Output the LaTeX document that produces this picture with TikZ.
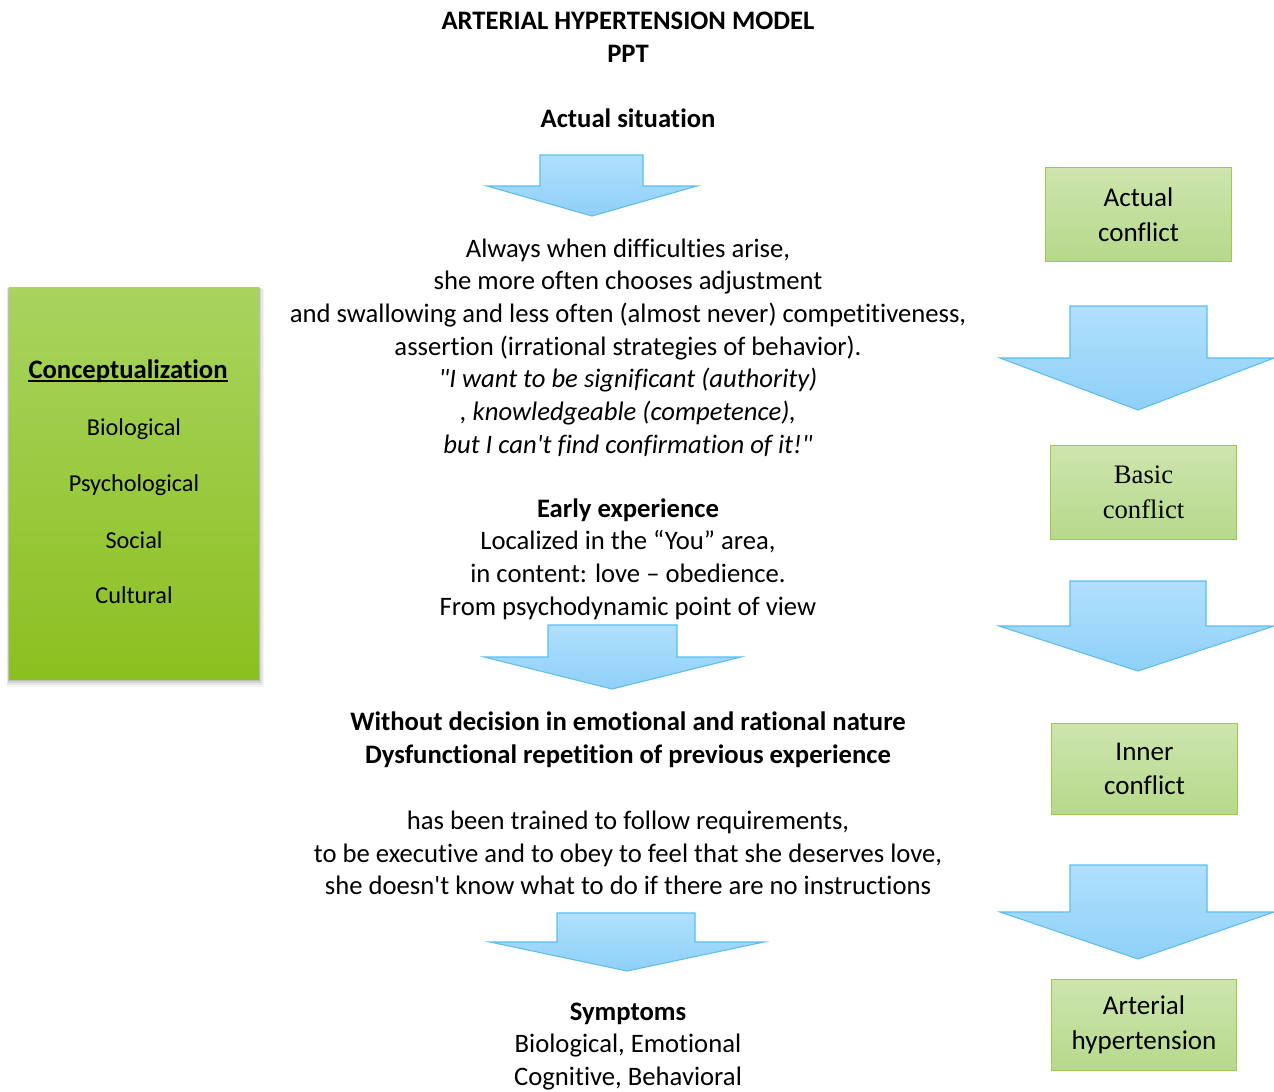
\documentclass[tikz,border=0pt]{standalone}
\usepackage{fontspec}
\setmainfont{Carlito}[Ligatures={TeXOff,CommonOff}]
\newfontfamily\serifbox{Liberation Serif}[Ligatures={TeXOff,CommonOff}]
\usetikzlibrary{shadings,calc}
\definecolor{arrowfillA}{HTML}{B0E0FD}
\definecolor{arrowfillB}{HTML}{8FD0F8}
\definecolor{arrowline}{HTML}{5CBEF0}
\definecolor{boxA}{HTML}{CDE5AE}
\definecolor{boxB}{HTML}{B6D98A}
\definecolor{boxline}{HTML}{9CCB4C}
\definecolor{concA}{HTML}{A8D45F}
\definecolor{concB}{HTML}{8BC020}
\tikzset{
  blockarrow/.style={draw=arrowline, line width=0.8pt, top color=arrowfillA, bottom color=arrowfillB, line join=miter},
  greenbox/.style={draw=boxline, line width=0.8pt, top color=boxA, bottom color=boxB, minimum width=139pt, align=center, font=\fontsize{20.3}{26}\selectfont},
  body/.style={align=center, font=\fontsize{20}{24.5}\selectfont},
  bodyb/.style={align=center, font=\fontsize{20}{24.5}\selectfont\bfseries},
  side/.style={align=center, font=\fontsize{18.2}{24.5}\selectfont},
}
\begin{document}
\begin{tikzpicture}[x=0.75pt,y=-0.75pt]
\useasboundingbox (0,0) rectangle (1274,1092);
\fill[white] (0,0) rectangle (1274,1092);

% title
\node[bodyb] (title) at (628,37) {ARTERIAL HYPERTENSION MODEL\\PPT};
\node[bodyb] (actual) at (628,118) {Actual situation};

% central arrows
\draw[blockarrow] (540,155) -- (643,155) -- (643,186) -- (697,186) -- (592,216) -- (487,186) -- (540,186) -- cycle;
\draw[blockarrow] (548,625) -- (677,625) -- (677,657) -- (741,657) -- (612,689) -- (484,657) -- (548,657) -- cycle;
\draw[blockarrow] (557,913) -- (695,913) -- (695,942) -- (764,942) -- (627,971) -- (490,942) -- (557,942) -- cycle;

% central text
\node[body] (always) at (628,347.5) {Always when difficulties arise,\\
she more often chooses adjustment\\
and swallowing and less often (almost never) competitiveness,\\
assertion (irrational strategies of behavior).\\
\itshape "I want to be significant (authority)\\
\itshape , knowledgeable (competence),\\
\itshape but I can't find confirmation of it!"};

\node[body] (early) at (628,559) {\textbf{Early experience}\\
Localized in the “You” area,\\
in content: love – obedience.\\
From psychodynamic point of view};

\node[bodyb] (without) at (628,739.5) {Without decision in emotional and rational nature\\
Dysfunctional repetition of previous experience};

\node[body] (trained) at (628,853) {has been trained to follow requirements,\\
to be executive and to obey to feel that she deserves love,\\
she doesn't know what to do if there are no instructions};

\node[body] (symptoms) at (628,1046.5) {\textbf{Symptoms}\\
Biological, Emotional\\
Cognitive, Behavioral};

% left box with shadow
\foreach \o/\a in {8/0.04,6/0.06,4/0.08,2/0.1}{
  \fill[black, opacity=\a] (9-\o*0.3,287+\o*0.2) rectangle (259+\o*0.6,679+\o);
}
\shade[top color=concA, bottom color=concB] (9,287) rectangle (259,679);
\node (concbox) at (134,483) [minimum width=187.5pt, minimum height=294pt] {};
\node[bodyb, inner sep=0pt] (concept) at (128,371) {Conceptualization};
\draw[line width=1.2pt] ([yshift=-2.2pt]concept.base west) -- ([yshift=-2.2pt]concept.base east);
\node[side] (bio) at (134,429) {Biological};
\node[side] (psy) at (134,485) {Psychological};
\node[side] (soc) at (134,540) {Social};
\node[side] (cul) at (134,595) {Cultural};

% right boxes
\node[greenbox, minimum height=70pt] (ac) at (1138.5,214.5) {Actual\\conflict};
\node[greenbox, minimum height=70pt, font=\serifbox\fontsize{20}{26}\selectfont] (bc) at (1143.5,492.5) {Basic\\conflict};
\node[greenbox, minimum height=68pt] (ic) at (1144.5,769) {Inner\\conflict};
\node[greenbox, minimum height=68pt] (ah) at (1144,1025) {Arterial\\hypertension};

% right arrows
\draw[blockarrow] (1070,306) -- (1207,306) -- (1207,358) -- (1274,358) -- (1138,410) -- (1000,358) -- (1070,358) -- cycle;
\draw[blockarrow] (1070,581) -- (1206,581) -- (1206,626) -- (1274,626) -- (1138,671) -- (999,626) -- (1070,626) -- cycle;
\draw[blockarrow] (1070,865) -- (1207,865) -- (1207,912) -- (1274,912) -- (1138,959) -- (1000,912) -- (1070,912) -- cycle;
\end{tikzpicture}
\end{document}
